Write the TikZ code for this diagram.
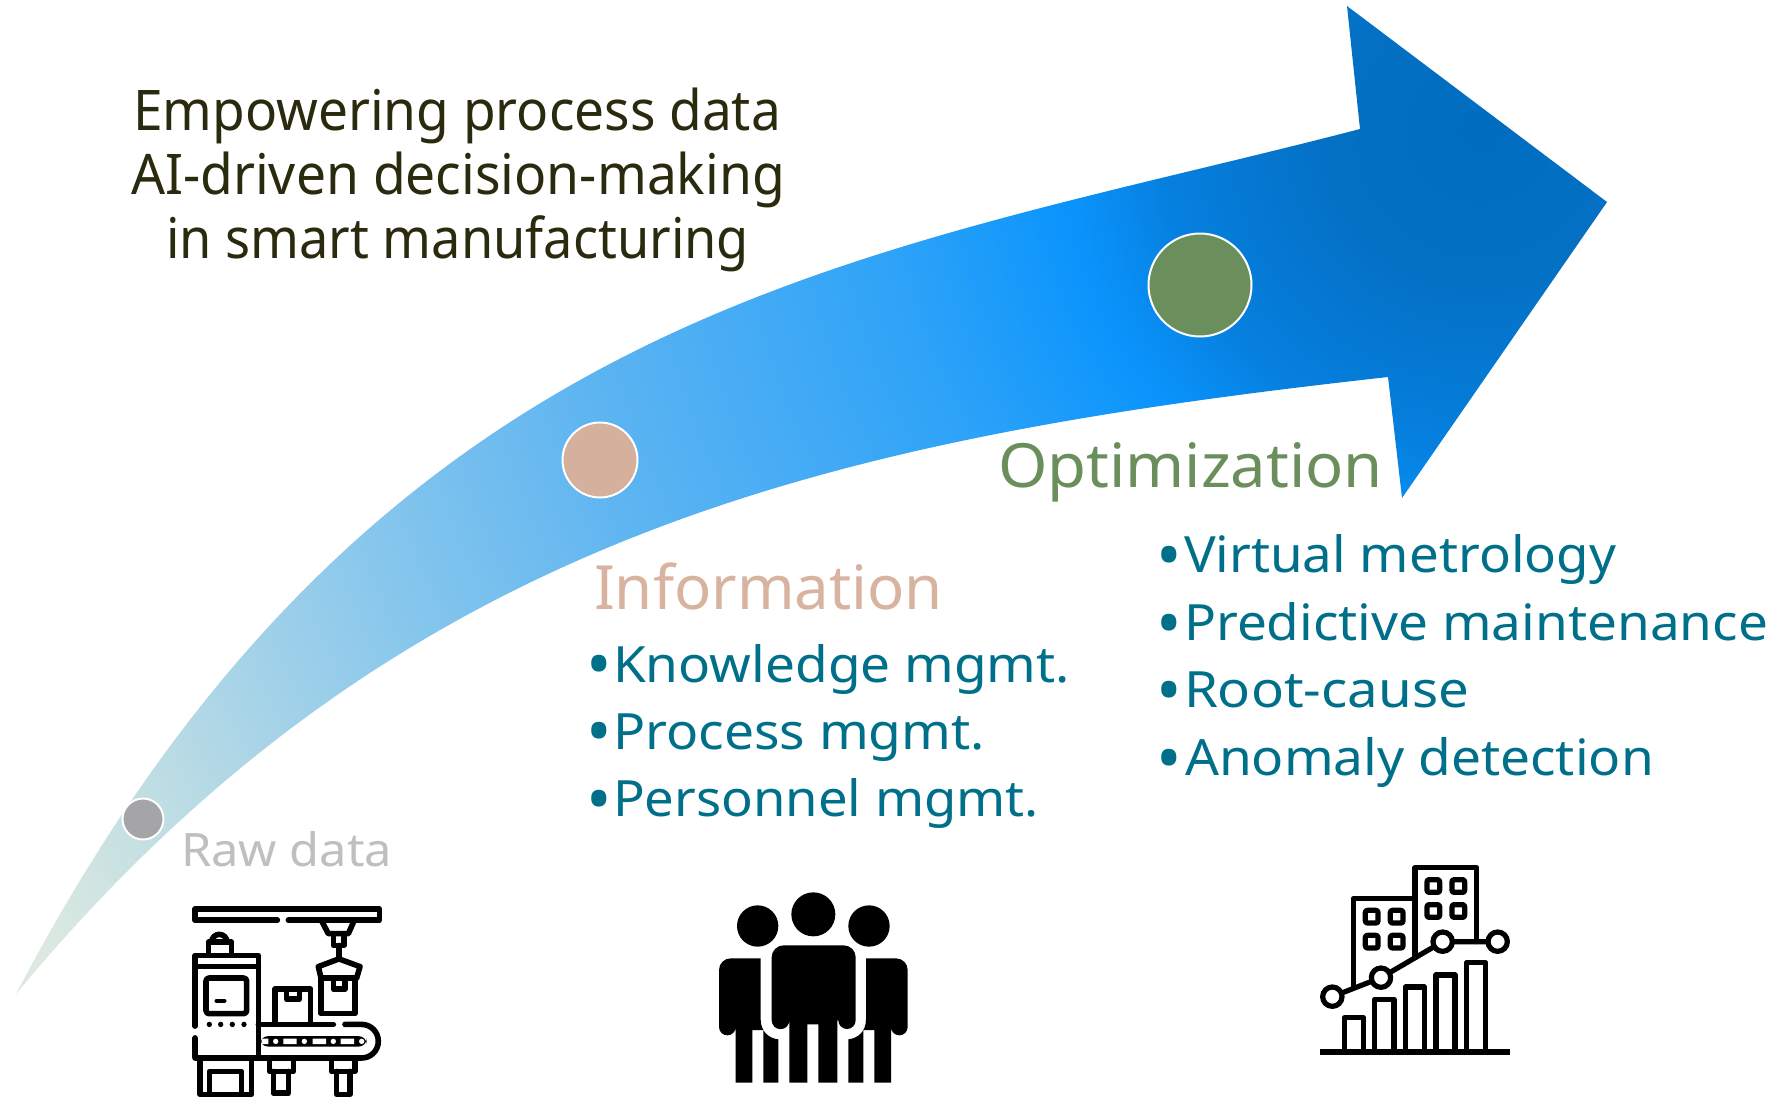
\documentclass[tikz,border=0pt]{standalone}
\usepackage{graphicx}
\usepackage{fontspec}
\setmainfont{Noto Sans}
\definecolor{gA}{HTML}{006DC0}
\definecolor{gB}{HTML}{0470C4}
\definecolor{gC}{HTML}{0680E0}
\definecolor{gD}{HTML}{0A94FC}
\definecolor{gE}{HTML}{2EA3F8}
\definecolor{gF}{HTML}{5FB5F1}
\definecolor{gG}{HTML}{8AC8EC}
\definecolor{gH}{HTML}{BCDCE4}
\definecolor{gI}{HTML}{DDE9E0}
\definecolor{titlecol}{HTML}{2A2A0E}
\definecolor{tealcol}{HTML}{00708A}
\definecolor{infocol}{HTML}{D8B4A0}
\definecolor{optcol}{HTML}{6A8F5C}
\definecolor{rawcol}{HTML}{BFBFBF}
\definecolor{dotraw}{HTML}{A5A5A7}
\definecolor{dotinfo}{HTML}{D5B09D}
\definecolor{dotopt}{HTML}{6A8E5C}
\pgfdeclareradialshading{arrowglow}{\pgfpointorigin}{%
 color(0bp)=(gA); color(2.18bp)=(gB); color(4.65bp)=(gC); color(6.05bp)=(gD);
 color(8.72bp)=(gE); color(13.66bp)=(gF); color(17.44bp)=(gG); color(21.3bp)=(gH);
 color(24bp)=(gI); color(50bp)=(gI)}
\newcommand\fw[2]{\resizebox{#1pt}{\height}{#2}}
\tikzset{
 lbl/.style={anchor=base west,inner sep=0pt,outer sep=0pt},
 title/.style={lbl,text=titlecol,font=\fontsize{56}{60}\selectfont},
 head/.style={lbl,font=\fontsize{61}{65}\selectfont},
 item/.style={lbl,text=tealcol,font=\fontsize{50}{54}\selectfont},
 bull/.style={anchor=base,inner sep=0pt,outer sep=0pt,text=tealcol,font=\fontsize{68}{72}\selectfont},
 dot/.style={circle,draw=white,line width=2pt,inner sep=0pt,outer sep=0pt},
 ico/.style={draw=black,line width=5pt,line join=round,line cap=round},
}
\begin{document}
\begin{tikzpicture}[x=1pt,y=-1pt]
\useasboundingbox (0,0) rectangle (1778,1096);
\fill[white] (0,0) rectangle (1778,1096);
% arrow
\begin{scope}
\clip (16,994) .. controls (380,300) and (860,259) .. (1360,129)
  -- (1347,6) -- (1607,202) -- (1402,498) -- (1388,377)
  .. controls (840,438) and (400,530) .. (16,994) -- cycle;
\shade[shading=arrowglow] (1480,130) circle[radius=1720];
\end{scope}
\node[dot,fill=dotraw,minimum size=41pt] (c1) at (143,819) {};
\node[dot,fill=dotinfo,minimum size=75pt] (c2) at (600,460) {};
\node[dot,fill=dotopt,minimum size=103pt] (c3) at (1200,285) {};
% title
\node[title] (t1) at (133,130) {\fw{648}{Empowering process data}};
\node[title] (t2) at (131,194) {\fw{654}{AI-driven decision-making}};
\node[title] (t3) at (166,258) {\fw{583}{in smart manufacturing}};
% labels
\node[lbl,text=rawcol,font=\fontsize{46}{50}\selectfont] (raw) at (181,866) {\fw{211}{Raw data}};
\node[head,text=infocol] (info) at (594,609) {\fw{349}{Information}};
\node[head,text=optcol] (opt) at (998,487) {\fw{385}{Optimization}};
\node[bull] (b1) at (599,688) {•};
\node[bull] (b2) at (599,755) {•};
\node[bull] (b3) at (599,823) {•};
\node[item] (i1) at (613,682) {\fw{457}{Knowledge mgmt.}};
\node[item] (i2) at (613,749) {\fw{372}{Process mgmt.}};
\node[item] (i3) at (613,816) {\fw{426}{Personnel mgmt.}};
\node[bull] (b4) at (1169,579) {•};
\node[bull] (b5) at (1169,647) {•};
\node[bull] (b6) at (1169,714) {•};
\node[bull] (b7) at (1169,782) {•};
\node[item] (o1) at (1184,572) {\fw{432}{Virtual metrology}};
\node[item] (o2) at (1184,640) {\fw{584}{Predictive maintenance}};
\node[item] (o3) at (1184,707) {\fw{285}{Root-cause}};
\node[item] (o4) at (1185,775) {\fw{469}{Anomaly detection}};
% factory icon
\begin{scope}[shift={(170,890)},x=0.33333pt,y=-0.33333pt,yscale=1.008]
\tikzset{ico/.append style={line width=5.6pt}}
\draw[ico] (322,90) -- (75,90) -- (75,57) -- (628,57) -- (628,90) -- (355,90);
\draw[ico] (455,92) -- (475,130) -- (535,130) -- (552,92);
\draw[ico] (490,130) -- (490,165) -- (522,165) -- (522,130);
\draw[ico] (507,165) -- (507,205);
\draw[ico] (453,262) -- (445,228) -- (507,205) -- (570,228) -- (560,262) -- cycle;
\draw[ico] (453,262) -- (453,368) -- (555,368) -- (555,262);
\draw[ico] (490,262) -- (490,295) -- (525,295) -- (525,262);
\draw[ico] (75,405) -- (75,195) -- (265,195) -- (265,500);
\draw[ico] (75,228) -- (265,228);
\draw[ico] (75,440) -- (75,500) -- (575,500) arc[start angle=90,end angle=-90,radius=50] -- (525,400);
\draw[ico] (490,400) -- (265,400);
\draw[ico,rounded corners=3pt] (108,262) rectangle (230,368);
\draw[ico,line width=4.4pt] (140,330) -- (163,330);
\foreach \q in {118,152,187,222} \fill (\q,400) circle[radius=8];
\draw[ico] (115,190) -- (115,155) -- (185,155) -- (185,190);
\draw[ico] (125,155) arc[start angle=180,end angle=360,radius=23];
\draw[ico] (90,500) -- (90,608) -- (245,608) -- (245,500);
\draw[ico] (118,608) -- (118,540) -- (215,540) -- (215,608);
\draw[ico] (298,500) -- (298,540) -- (370,540) -- (370,500);
\draw[ico] (310,540) -- (310,605) -- (355,605) -- (355,540);
\draw[ico] (485,500) -- (485,540) -- (555,540) -- (555,500);
\draw[ico] (500,540) -- (500,608) -- (540,608) -- (540,540);
\draw[ico] (315,395) -- (315,295) -- (422,295) -- (422,395);
\draw[ico] (350,295) -- (350,325) -- (388,325) -- (388,295);
\fill[rounded corners=8pt] (270,435) rectangle (590,466);
\fill[white] (275,442) rectangle (295,459) (340,442) rectangle (380,459) (428,442) rectangle (468,459) (512,442) rectangle (552,459);
\foreach \q in {317,403,490,575} \fill[white] (\q,450.5) circle[radius=8];
\end{scope}
% people icon
\begin{scope}[shift={(700,881)},x=0.33333pt,y=-0.33333pt]
\fill (340,100) circle[radius=66];
\fill (173,135) circle[radius=62];
\fill (507,135) circle[radius=62];
\fill (215,418) -- (215,229) arc[start angle=180,end angle=270,radius=36] -- (431,193)
  arc[start angle=270,end angle=360,radius=36] -- (467,418)
  arc[start angle=0,end angle=180,radius=26] -- (412,418) -- (412,605) -- (355,605) -- (355,430) -- (322,430)
  -- (322,605) -- (268,605) -- (268,418) arc[start angle=0,end angle=180,radius=26.5] -- cycle;
\fill (182,232) -- (92,232) arc[start angle=270,end angle=180,radius=35] -- (57,438)
  arc[start angle=180,end angle=0,radius=25] -- (107,605) -- (157,605) -- (157,447) -- (190,447)
  -- (190,605) -- (235,605) -- (235,475) .. controls (205,472) and (182,450) .. (182,415) -- cycle;
\fill (498,232) -- (588,232) arc[start angle=270,end angle=360,radius=35] -- (623,438)
  arc[start angle=0,end angle=180,radius=25] -- (573,605) -- (523,605) -- (523,447) -- (490,447)
  -- (490,605) -- (445,605) -- (445,475) .. controls (475,472) and (498,450) .. (498,415) -- cycle;
\end{scope}
% chart icon
\begin{scope}[shift={(1300,851)},x=0.33333pt,y=-0.33333pt]
\tikzset{ico/.append style={line width=5.2pt}}
\fill (60,593) rectangle (630,611);
\foreach \l/\r/\t in {133/190/500,224/282/445,316/373/408,408/465/372,500/557/335}
  \draw[ico] (\l,595) -- (\l,\t) -- (\r,\t) -- (\r,595);
\draw[ico] (160,410) -- (160,142) -- (345,142);
\draw[ico] (345,320) -- (345,50) -- (530,50) -- (530,272);
\foreach \p/\q in {215/197,290/197,215/272,290/272,400/105,475/105,400/180,475/180}
  \draw[ico,rounded corners=2pt] (\p-19,\q-19) rectangle (\p+19,\q+19);
\draw[ico] (97,437) -- (243,380) -- (428,272) -- (593,272);
\foreach \p/\q in {97/437,243/380,428/272,593/272}
  \draw[ico,fill=white] (\p,\q) circle[radius=29];
\end{scope}
\end{tikzpicture}
\end{document}
